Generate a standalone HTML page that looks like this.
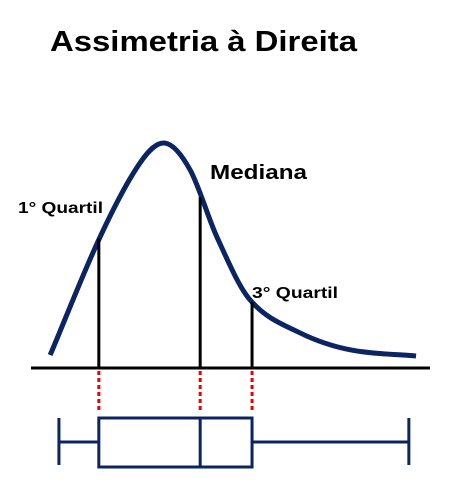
<!DOCTYPE html>
<html><head><meta charset="utf-8"><style>
html,body{margin:0;padding:0;background:#fff;width:455px;height:493px;overflow:hidden}
svg{display:block}
text{font-family:"Liberation Sans",sans-serif;font-weight:bold;fill:#000}
</style></head><body>
<svg id="chart" width="455" height="493">
<text x="50" y="51" font-size="29" textLength="307" lengthAdjust="spacingAndGlyphs">Assimetria à Direita</text>
<text x="210" y="179" font-size="20" textLength="97" lengthAdjust="spacingAndGlyphs">Mediana</text>
<text x="18" y="213" font-size="16" textLength="85" lengthAdjust="spacingAndGlyphs">1° Quartil</text>
<text x="252" y="298" font-size="16" textLength="86" lengthAdjust="spacingAndGlyphs">3° Quartil</text>
<g id="marks"></g>
</svg>
<script>
const curveX=[4.8,17.3,27.3,33.6,39.9,46.6,54.9,67.4,80,96.5];
const curveY=[0.057,0.577,0.903,0.991,0.872,0.577,0.30,0.155,0.08,0.053];
const quartiles=[17,42.4,55.4];
const quartileHeights=[0.57,0.753,0.29];
const whiskers=[7,94.7];
const NS="http://www.w3.org/2000/svg";
const xs=v=>31+v*3.99;
const ys=v=>368-v*227;
const g=document.getElementById('marks');
function mk(t,a){const e=document.createElementNS(NS,t);for(const k in a)e.setAttribute(k,a[k]);g.appendChild(e);return e;}
const navy="#0c2461";
const P=curveX.map((x,i)=>[xs(x),ys(curveY[i])]);
const n=P.length;
const m=P.map((p,i)=>{const a=P[Math.max(0,i-1)],b=P[Math.min(n-1,i+1)];return (b[1]-a[1])/(b[0]-a[0]);});
let d="M"+P[0][0]+","+P[0][1];
for(let i=0;i<n-1;i++){const p1=P[i],p2=P[i+1],h=(p2[0]-p1[0])/3;
d+=" C"+(p1[0]+h)+","+(p1[1]+m[i]*h)+" "+(p2[0]-h)+","+(p2[1]-m[i+1]*h)+" "+p2[0]+","+p2[1];}
let e=mk('path',{d:d,fill:'none',stroke:navy,'stroke-width':5,'stroke-linejoin':'round'});


e=mk('line',{x1:31,y1:368,x2:430,y2:368,stroke:'#000','stroke-width':3});


quartiles.forEach((q,i)=>{
 let l=mk('line',{x1:xs(q),y1:ys(quartileHeights[i]),x2:xs(q),y2:368,stroke:'#000','stroke-width':3});
 
 
 let r=mk('line',{x1:xs(q),y1:371,x2:xs(q),y2:413,stroke:'#e00','stroke-width':3,'stroke-dasharray':'4,3'});
 
 
});
const bx1=xs(quartiles[0]),bx2=xs(quartiles[2]);
e=mk('rect',{x:bx1,y:418,width:bx2-bx1,height:49,fill:'none',stroke:navy,'stroke-width':3});


e=mk('line',{x1:xs(quartiles[1]),y1:418,x2:xs(quartiles[1]),y2:467,stroke:navy,'stroke-width':3});


e=mk('line',{x1:xs(whiskers[0]),y1:442,x2:bx1,y2:442,stroke:navy,'stroke-width':3});


e=mk('line',{x1:bx2,y1:442,x2:xs(whiskers[1]),y2:442,stroke:navy,'stroke-width':3});


whiskers.forEach(w=>{
 let c=mk('line',{x1:xs(w),y1:418,x2:xs(w),y2:465,stroke:navy,'stroke-width':3});
 
 
});
</script>
</body></html>
